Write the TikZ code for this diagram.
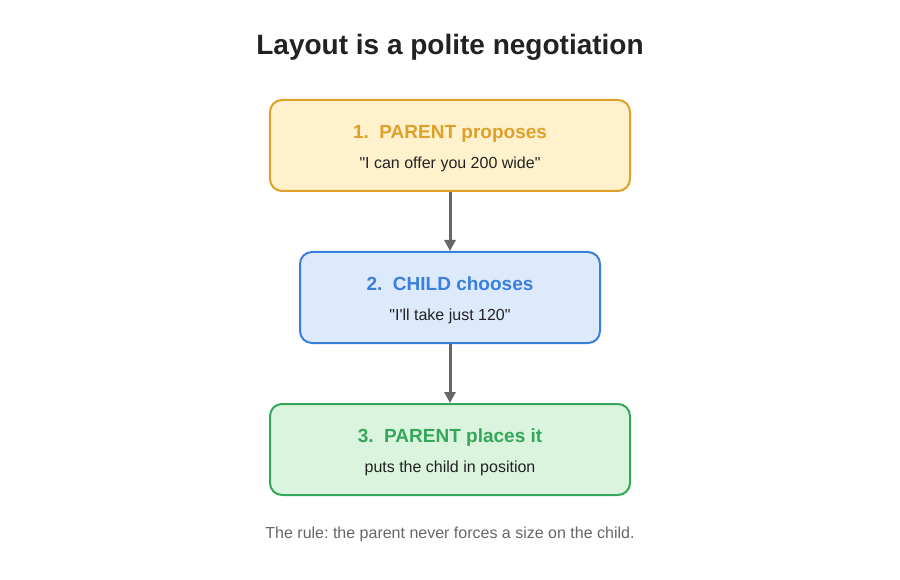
\documentclass[tikz,border=0pt]{standalone}
\usepackage{fontspec}
\setmainfont{Liberation Sans}
\usetikzlibrary{arrows.meta,positioning}
\definecolor{parentGold}{HTML}{DDA02A}
\definecolor{parentFill}{HTML}{FFF1CC}
\definecolor{childBlue}{HTML}{3A7FDB}
\definecolor{childFill}{HTML}{DCEAFC}
\definecolor{placeGreen}{HTML}{35A75A}
\definecolor{placeFill}{HTML}{DAF4DD}
\definecolor{inkGray}{HTML}{222222}
\definecolor{arrowGray}{HTML}{666666}
\frenchspacing

\tikzset{
  stepbox/.style={rounded corners=12pt,line width=2pt,align=center,minimum height=91pt,
    font=\fontsize{16}{19}\selectfont,text=inkGray},
  flow/.style={-{Triangle[length=11pt,width=11pt]},line width=3pt,draw=arrowGray}
}
% heading line of a step box
\newcommand{\stephead}[2]{{\color{#1}\bfseries\fontsize{19}{22}\selectfont\rule{0pt}{20pt}#2}\\[11pt]}

\begin{document}
\begin{tikzpicture}[x=1pt,y=-1pt,node distance=59pt]
  \useasboundingbox (0,0) rectangle (900,580);
  \node[font=\bfseries\fontsize{28}{32}\selectfont,text=inkGray] (title) at (450,47)
    {Layout is a polite negotiation};
  \node[stepbox,draw=parentGold,fill=parentFill,minimum width=360pt] (propose) at (450,145.5)
    {\stephead{parentGold}{1.\ \ PARENT proposes}\textquotedbl I can offer you 200 wide\textquotedbl};
  \node[stepbox,draw=childBlue,fill=childFill,minimum width=300pt,below=of propose] (choose)
    {\stephead{childBlue}{2.\ \ CHILD chooses}\textquotedbl I\textquotesingle ll take just 120\textquotedbl};
  \node[stepbox,draw=placeGreen,fill=placeFill,minimum width=360pt,below=of choose] (place)
    {\stephead{placeGreen}{3.\ \ PARENT places it}puts the child in position};
  \draw[flow] (propose) -- (choose);
  \draw[flow] (choose) -- (place);
  \node[font=\fontsize{16}{19}\selectfont,text=arrowGray] (rule) at (450,534)
    {The rule: the parent never forces a size on the child.};
\end{tikzpicture}
\end{document}
